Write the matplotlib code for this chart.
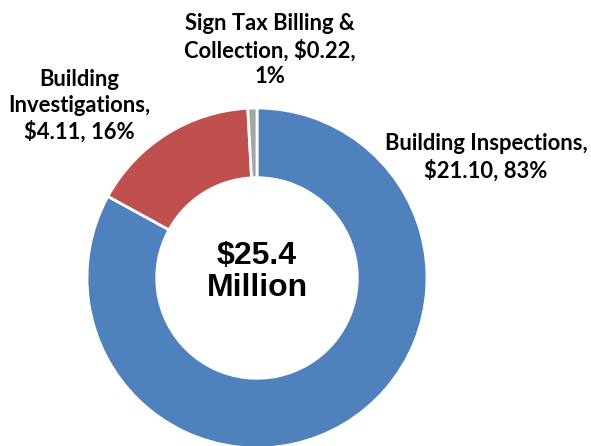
import matplotlib.pyplot as plt

# budget by program, $ millions
programs = ["Building Inspections", "Building Investigations", "Sign Tax Billing & Collection"]
amounts = [21.10, 4.11, 0.22]
percents = [83, 16, 1]
total_text = "$25.4\nMillion"

label_texts = [
    "Building Inspections,\n$21.10, 83%",
    "Building\nInvestigations,\n$4.11, 16%",
    "Sign Tax Billing &\nCollection, $0.22,\n1%",
]
colors = ["#4F81BD", "#C0504D", "#A5A5A5"]

# pixel layout of the reference
W, H = 591, 446
cx, cy, R = 257, 278, 170
label_px = [(486, 157), (79, 106), (270, 50)]


def to_data(px, py):
    return (px - cx) / R, (cy - py) / R


def main():
    fig = plt.figure(figsize=(W / 100, H / 100), dpi=100)
    ax = fig.add_axes([0, 0, 1, 1])
    ax.pie(amounts, colors=colors, startangle=90, counterclock=False,
           radius=1.0,
           wedgeprops=dict(width=0.41, edgecolor="white", linewidth=2))
    ax.set_xlim(-cx / R, (W - cx) / R)
    ax.set_ylim((cy - H) / R, cy / R)
    ax.set_aspect("equal")
    ax.axis("off")

    for txt, (px, py) in zip(label_texts, label_px):
        x, y = to_data(px, py)
        ax.text(x, y, txt, ha="center", va="center", fontsize=15.8,
                fontweight="bold", family="Lato", linespacing=1.28)

    ax.text(0, to_data(0, 272)[1], total_text, ha="center", va="center",
            fontsize=23, fontweight="bold", family="Liberation Sans",
            linespacing=1.12)

    fig.savefig("out.png", dpi=100)


if __name__ == "__main__":
    main()
